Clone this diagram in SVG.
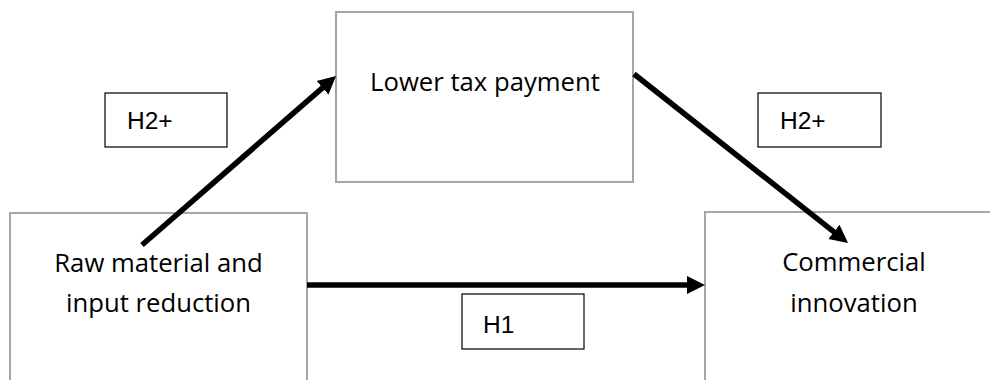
<svg xmlns="http://www.w3.org/2000/svg" width="990" height="380" viewBox="0 0 990 380">
  <style>
    .node { fill: #ffffff; stroke: #a6a6a6; stroke-width: 2; }
    .label-box { fill: #ffffff; stroke: #000000; stroke-width: 1.2; }
    .node-text { font-family: "Open Sans", "Noto Sans", sans-serif; font-size: 25.7px; fill: #000000; text-anchor: middle; }
    .label-text { font-family: "Liberation Sans", Arial, sans-serif; font-size: 24.5px; fill: #000000; }
    .edge { fill: none; stroke: #000000; stroke-width: 5.5; }
  </style>
  <defs>
    <marker id="arrow" markerUnits="userSpaceOnUse" markerWidth="20" markerHeight="20" viewBox="0 0 20 20" refX="8" refY="10" orient="auto">
      <path d="M0,1 L18,10 L0,19 z" fill="#000000"/>
    </marker>
  </defs>
  <rect width="990" height="380" fill="#ffffff"/>

  <!-- nodes -->
  <g id="raw-material">
    <rect class="node" x="10" y="213" width="297" height="200"/>
    <text class="node-text" x="158.5" y="272">Raw material and</text>
    <text class="node-text" x="158.5" y="312">input reduction</text>
  </g>
  <g id="lower-tax">
    <rect class="node" x="336" y="12" width="297" height="170"/>
    <text class="node-text" x="485" y="91">Lower tax payment</text>
  </g>
  <g id="commercial-innovation">
    <rect class="node" x="705" y="212" width="300" height="200"/>
    <text class="node-text" x="854" y="271">Commercial</text>
    <text class="node-text" x="854" y="312">innovation</text>
  </g>

  <!-- hypothesis labels -->
  <g id="label-h2-left">
    <rect class="label-box" x="105" y="93" width="122" height="54"/>
    <text class="label-text" x="127" y="129">H2+</text>
  </g>
  <g id="label-h2-right">
    <rect class="label-box" x="758" y="93" width="123" height="54"/>
    <text class="label-text" x="780" y="129">H2+</text>
  </g>
  <g id="label-h1">
    <rect class="label-box" x="462" y="294" width="122" height="55"/>
    <text class="label-text" x="483" y="333">H1</text>
  </g>

  <!-- connectors -->
  <g id="connectors">
    <line class="edge" x1="142" y1="245" x2="328.5" y2="82.6" marker-end="url(#arrow)"/>
    <line class="edge" x1="634" y1="74" x2="840.2" y2="236.8" marker-end="url(#arrow)"/>
    <line class="edge" x1="307" y1="285" x2="695" y2="285" marker-end="url(#arrow)"/>
  </g>
</svg>
